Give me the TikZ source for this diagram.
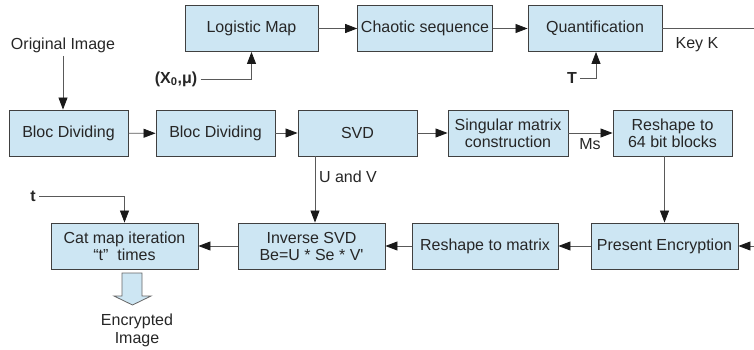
\documentclass[tikz,border=0pt]{standalone}
\usepackage{fontspec}
\setmainfont{Liberation Sans}
\usetikzlibrary{arrows.meta}
\definecolor{boxblue}{RGB}{205,230,243}
\tikzset{
  blk/.style={draw=black!75, fill=boxblue, line width=0.9pt, minimum height=46pt, align=center},
  arr/.style={draw=black!65, line width=0.8pt, -{Triangle[length=12pt,width=9pt,color=black!90]}},
  ln/.style={draw=black!65, line width=0.8pt},
}
\begin{document}
\begin{tikzpicture}[x=1pt,y=-1pt,font=\fontsize{16}{17}\selectfont,text=black!85]
  \useasboundingbox (0,0) rectangle (754,350);
  % key generation
  \node[blk, minimum width=133pt] (logistic) at (251.5,28.5) {Logistic Map};
  \node[blk, minimum width=134pt] (chaotic) at (425,28.5) {Chaotic sequence};
  \node[blk, minimum width=134pt] (quant) at (595,28.5) {Quantification};
  \node (x0) at (176,79) {\textbf{(X\textsubscript{0},μ)}};
  \node (T) at (572,78) {\textbf{T}};
  \coordinate (keyend) at (754,28.5);
  \node (key) at (697,45) {Key K};
  \node (orig) at (63,45) {Original Image};
  % middle row
  \node[blk, minimum width=119pt] (bd1) at (68.5,133) {Bloc Dividing};
  \node[blk, minimum width=119pt] (bd2) at (215.5,133.5) {Bloc Dividing};
  \node[blk, minimum width=119pt] (svd) at (357.5,133) {SVD};
  \node[blk, minimum width=120pt] (sing) at (508,133) {Singular matrix\\construction};
  \node[blk, minimum width=119pt] (resh64) at (672.5,133) {Reshape to\\64 bit blocks};
  \node (ms) at (590,144) {Ms};
  \node (uv) at (348,177) {U and V};
  % bottom row
  \node[blk, minimum width=147pt] (cat) at (124.5,246) {Cat map iteration\\“t”~ times};
  \node[blk, minimum width=147pt] (isvd) at (311.5,246) {Inverse SVD\\Be=U * Se * V\textquotesingle};
  \node[blk, minimum width=146pt] (rmat) at (485,246) {Reshape to matrix};
  \node[blk, minimum width=147pt] (pe) at (664.5,246) {Present Encryption};
  \node (t) at (33,196) {\textbf{t}};
  \coordinate (peend) at (754,246);
  \node[align=center, font=\fontsize{16}{18}\selectfont] (enc) at (137,330) {Encrypted\\Image};

  \draw[arr] (logistic) -- (chaotic);
  \draw[arr] (chaotic) -- (quant);
  \draw[ln] (quant) -- (keyend);
  \draw[arr] (x0.east) -| (logistic.south);
  \draw[arr] (T.east) -| ([xshift=1pt]quant.south);
  \draw[arr] (orig.south) -- (orig.south |- bd1.north);
  \draw[arr] (bd1) -- (bd2);
  \draw[arr] (bd2.east |- svd) -- (svd);
  \draw[arr] (svd) -- (sing);
  \draw[arr] (sing) -- (resh64);
  \draw[arr] ([xshift=3.5pt]isvd.north |- svd.south) -- ([xshift=3.5pt]isvd.north);
  \draw[arr] (resh64.south -| pe.north) -- (pe.north);
  \draw[arr] (peend) -- (pe);
  \draw[arr] (pe) -- (rmat);
  \draw[arr] (rmat) -- (isvd);
  \draw[arr] (isvd) -- (cat);
  \draw[arr] (t.east) -| (cat.north);
  \draw[draw=black!60, fill=boxblue, line width=0.8pt]
    (122,273) -- (142,273) -- (142,296) -- (151,296) -- (132.5,305) -- (114,296) -- (122,296) -- cycle;
\end{tikzpicture}
\end{document}
